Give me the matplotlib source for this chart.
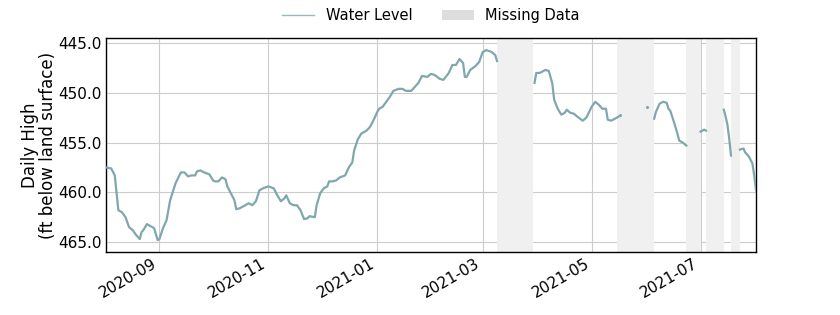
"""
Daily high water level with missing-data spans
"""

import matplotlib
matplotlib.use("Agg")
import matplotlib.pyplot as plt
import matplotlib.dates as mdates
from matplotlib.lines import Line2D
from matplotlib.patches import Patch
import numpy as np
import pandas as pd

# --- data (ft below land surface) ---
level_dates = [
    "2020-08-02", "2020-08-05", "2020-08-07", "2020-08-09", "2020-08-11", "2020-08-13",
    "2020-08-15", "2020-08-17", "2020-08-19", "2020-08-21", "2020-08-22", "2020-08-23",
    "2020-08-25", "2020-08-27", "2020-08-29", "2020-08-31", "2020-09-01", "2020-09-03",
    "2020-09-05", "2020-09-07", "2020-09-10", "2020-09-13", "2020-09-15", "2020-09-17",
    "2020-09-19", "2020-09-21", "2020-09-22", "2020-09-24", "2020-09-26", "2020-09-29",
    "2020-10-01", "2020-10-02", "2020-10-04", "2020-10-06", "2020-10-08", "2020-10-09",
    "2020-10-11", "2020-10-13", "2020-10-14", "2020-10-16", "2020-10-18", "2020-10-21",
    "2020-10-23", "2020-10-25", "2020-10-27", "2020-10-29", "2020-11-01", "2020-11-04",
    "2020-11-06", "2020-11-08", "2020-11-10", "2020-11-11", "2020-11-13", "2020-11-15",
    "2020-11-17", "2020-11-19", "2020-11-21", "2020-11-23", "2020-11-24", "2020-11-27",
    "2020-11-28", "2020-11-30", "2020-12-02", "2020-12-04", "2020-12-05", "2020-12-07",
    "2020-12-09", "2020-12-11", "2020-12-14", "2020-12-16", "2020-12-18", "2020-12-19",
    "2020-12-21", "2020-12-23", "2020-12-26", "2020-12-28", "2020-12-30", "2021-01-01",
    "2021-01-02", "2021-01-04", "2021-01-06", "2021-01-08", "2021-01-10", "2021-01-13",
    "2021-01-15", "2021-01-17", "2021-01-20", "2021-01-22", "2021-01-24", "2021-01-26",
    "2021-01-29", "2021-01-31", "2021-02-02", "2021-02-05", "2021-02-07", "2021-02-10",
    "2021-02-12", "2021-02-14", "2021-02-16", "2021-02-18", "2021-02-19", "2021-02-20",
    "2021-02-22", "2021-02-25", "2021-02-27", "2021-03-01", "2021-03-03", "2021-03-06",
    "2021-03-08", "2021-03-09",
    # gap
    "2021-03-20",
    "2021-03-30", "2021-03-31", "2021-04-02", "2021-04-03", "2021-04-05", "2021-04-07",
    "2021-04-09", "2021-04-10", "2021-04-12", "2021-04-14", "2021-04-16", "2021-04-17",
    "2021-04-19", "2021-04-21", "2021-04-23", "2021-04-26", "2021-04-28", "2021-05-01",
    "2021-05-03", "2021-05-05", "2021-05-07", "2021-05-09", "2021-05-10", "2021-05-12",
    "2021-05-14", "2021-05-16",
    "2021-05-25",
    "2021-06-05", "2021-06-06", "2021-06-08", "2021-06-10", "2021-06-12", "2021-06-13",
    "2021-06-14", "2021-06-16", "2021-06-18", "2021-06-19", "2021-06-21", "2021-06-23",
    "2021-06-27",
    "2021-07-01", "2021-07-03", "2021-07-04",
    "2021-07-09",
    "2021-07-14", "2021-07-15", "2021-07-16", "2021-07-17", "2021-07-18",
    "2021-07-20",
    "2021-07-23", "2021-07-25", "2021-07-26", "2021-07-28", "2021-07-30", "2021-07-31",
    "2021-08-01",
]
level_values = [
    457.5, 457.6, 458.3, 461.8, 462.0, 462.5,
    463.5, 463.8, 464.3, 464.7, 464.0, 463.8,
    463.2, 463.4, 463.6, 464.8, 464.7, 463.6,
    462.8, 460.8, 459.1, 458.0, 458.0, 458.4,
    458.3, 458.3, 457.9, 457.8, 458.0, 458.2,
    458.8, 458.9, 458.9, 458.5, 458.7, 459.4,
    460.1, 460.8, 461.7, 461.6, 461.4, 461.1,
    461.3, 460.9, 459.8, 459.6, 459.4, 459.6,
    460.3, 460.9, 460.6, 460.3, 461.1, 461.3,
    461.3, 461.8, 462.7, 462.6, 462.4, 462.5,
    461.3, 460.1, 459.6, 459.4, 458.9, 458.9,
    458.8, 458.5, 458.3, 457.5, 457.0, 455.8,
    454.7, 454.1, 453.8, 453.4, 452.7, 451.9,
    451.6, 451.4, 450.9, 450.4, 449.8, 449.6,
    449.6, 449.8, 449.8, 449.4, 449.0, 448.3,
    448.4, 448.1, 448.2, 448.6, 448.7, 448.0,
    447.2, 447.2, 446.6, 447.0, 448.4, 448.4,
    447.7, 447.3, 446.9, 445.9, 445.7, 445.9,
    446.2, 446.8,
    np.nan,
    449.0, 448.0, 448.0, 447.9, 447.7, 447.8,
    449.1, 450.7, 451.6, 452.2, 452.0, 451.7,
    452.0, 452.1, 452.4, 452.8, 452.5, 451.4,
    450.9, 451.2, 451.6, 451.6, 452.7, 452.8,
    452.6, 452.4,
    np.nan,
    452.6, 451.9, 451.1, 450.9, 451.0, 451.6,
    451.8, 452.9, 454.1, 454.8, 455.0, 455.3,
    np.nan,
    453.9, 453.7, 453.8,
    np.nan,
    451.7, 452.4, 453.2, 454.6, 456.3,
    np.nan,
    455.7, 455.6, 456.0, 456.4, 457.1, 458.3,
    459.8,
]

# single readings inside the May/June gap
lone_dates = ["2021-05-17", "2021-06-01"]
lone_values = [452.2, 451.4]

# missing-data spans
gap_starts = ["2021-03-09", "2021-05-15", "2021-06-23", "2021-07-04", "2021-07-18"]
gap_ends = ["2021-03-29", "2021-06-05", "2021-07-01", "2021-07-14", "2021-07-23"]

line_color = "#7fa7ad"
gap_color = "#f0f0f0"


def main():
    dates = pd.to_datetime(level_dates)
    lone = pd.to_datetime(lone_dates)

    fig = plt.figure(figsize=(8.4, 3.15), dpi=100)
    ax = fig.add_axes([0.126, 0.2, 0.774, 0.679])

    for s, e in zip(gap_starts, gap_ends):
        ax.axvspan(pd.Timestamp(s), pd.Timestamp(e), color=gap_color, lw=0, zorder=1)

    ax.plot(dates, level_values, color=line_color, lw=1.6, zorder=3)
    ax.plot(lone, lone_values, ls="none", marker="o", ms=1.2, color=line_color, zorder=3)

    ax.set_xlim(pd.Timestamp("2020-08-02"), pd.Timestamp("2021-08-01"))
    ax.set_ylim(466.0, 444.5)
    ax.set_yticks([445, 450, 455, 460, 465])
    ax.yaxis.set_major_formatter(plt.FormatStrFormatter("%.1f"))

    ax.xaxis.set_major_locator(mdates.MonthLocator(bymonth=[1, 3, 5, 7, 9, 11]))
    ax.xaxis.set_major_formatter(mdates.DateFormatter("%Y-%m"))
    for lbl in ax.get_xticklabels():
        lbl.set_rotation(30)
        lbl.set_ha("right")

    ax.tick_params(axis="both", length=0, labelsize=11, pad=3)
    ax.grid(True, color="#cccccc", lw=0.8, zorder=0)
    ax.set_axisbelow(True)
    for sp in ax.spines.values():
        sp.set_color("black")
        sp.set_linewidth(1.0)

    ax.set_ylabel("Daily High\n(ft below land surface)", fontsize=12,
                  linespacing=1.0, labelpad=1)

    handles = [
        Line2D([0], [0], color="#9ab8bc", lw=1.0),
        Patch(facecolor="#dddddd", edgecolor="none"),
    ]
    fig.legend(handles, ["Water Level", "Missing Data"], loc="upper center",
               bbox_to_anchor=(0.513, 1.015), ncol=2, frameon=False, fontsize=10.5,
               handlelength=2.2, columnspacing=2.0)

    fig.savefig("out.png", dpi=100)


if __name__ == "__main__":
    main()
